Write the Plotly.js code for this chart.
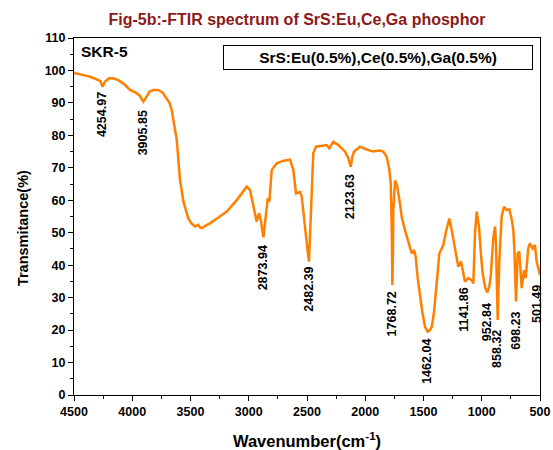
<!DOCTYPE html>
<html>
<head>
<meta charset="utf-8">
<script src="https://cdn.plot.ly/plotly-3.0.1.min.js"></script>
<style>html,body{margin:0;padding:0;background:#fff;}#chart{width:553px;height:450px;}</style>
</head>
<body>
<div id="chart"></div>
<script>
// Wavenumber (cm^-1) and transmittance (%)
const wavenumber = [4500,4450,4400,4350,4305,4275,4255,4235,4200,4165,4120,4070,4019,3962,3935,3905,3880,3850,3820,3779,3740,3704,3680,3661,3640,3618,3590,3560,3519,3490,3461,3433,3418,3404,3370,3333,3260,3189,3100,3017,2989,2965,2946,2932,2912,2897,2874,2852,2837,2823,2803,2760,2700,2646,2617,2594,2560,2545,2526,2508,2495,2483,2470,2460,2446,2423,2380,2331,2309,2290,2274,2231,2174,2145,2125,2110,2096,2045,2000,1931,1880,1845,1816,1793,1781,1772,1767,1762,1759,1744,1725,1700,1687,1659,1630,1601,1581,1567,1550,1530,1510,1487,1464,1445,1429,1410,1393,1375,1364,1330,1307,1278,1258,1230,1201,1178,1160,1144,1115,1086,1072,1065,1058,1043,1024,1005,992,970,952,935,923,901,886,878,868,863,856,849,829,809,786,763,745,729,720,706,700,692,678,665,657,637,623,601,586,563,543,529,506,500];
const transmittance = [99.2,98.9,98.4,97.9,97.3,96.8,95.0,96.5,97.6,97.6,97.0,95.8,94.0,93.0,92.2,90.4,91.8,93.5,94.0,94.0,93.2,91.4,90.0,87.8,83.5,78.6,66.3,59.5,54.4,52.8,51.9,52.4,51.6,51.4,52.2,52.9,54.7,56.5,60.2,64.2,63.2,59.0,55.0,53.4,56.0,53.9,48.6,57.0,60.6,59.6,69.3,71.4,72.2,72.5,69.3,62.1,62.6,61.1,53.9,48.8,44.5,41.1,52.0,64.2,74.5,76.5,76.8,77.0,76.0,77.2,78.0,77.0,75.0,73.0,70.3,73.5,75.0,76.5,75.8,75.0,75.3,75.0,73.4,69.3,65.2,50.0,33.9,45.0,57.0,66.1,64.2,58.5,54.9,50.8,47.5,43.6,44.7,42.6,36.0,30.3,25.5,21.0,19.5,20.0,21.0,25.5,31.3,39.0,43.6,46.2,50.3,54.4,50.8,44.7,39.5,41.1,38.0,34.9,36.0,35.4,34.4,40.0,49.8,56.5,51.9,42.5,37.5,33.0,31.6,33.5,36.5,48.3,51.9,46.7,30.0,23.1,33.0,41.6,55.0,58.0,57.0,57.2,54.5,50.8,44.7,28.8,35.0,43.6,44.2,38.0,32.9,38.5,36.0,45.2,46.7,45.2,46.2,41.1,37.5,37.0];

// Peak labels
const peakLabels = ["4254.97","3905.85","2873.94","2482.39","2123.63","1768.72","1462.04","1141.86","952.84","858.32","698.23","501.49"];
const peakLabelX = [4254,3910,2880,2480,2131,1770,1472,1150,957,871,708,526];
const peakLabelTop = [94.0,88.4,46.8,40.1,68.8,32.4,18.0,33.9,28.8,20.6,26.2,34.5];

const sampleName = "SKR-5";
const seriesName = "SrS:Eu(0.5%),Ce(0.5%),Ga(0.5%)";
const titleText = "Fig-5b:-FTIR spectrum of SrS:Eu,Ce,Ga phosphor";
const xTitle = "Wavenumber(cm<sup>-1</sup>)";
const yTitle = "Transmitance(%)";

const FONT = "Liberation Sans, Arial, sans-serif";

const annotations = peakLabels.map((t, i) => ({
  x: peakLabelX[i], y: peakLabelTop[i], xref: 'x', yref: 'y',
  text: t, textangle: -90, showarrow: false,
  xanchor: 'center', yanchor: 'top',
  font: {family: FONT, size: 12.5, color: '#000', weight: 'bold'}
}));
annotations.push({
  x: 0.011, y: 0.961, xref: 'paper', yref: 'paper', text: sampleName,
  showarrow: false, xanchor: 'left', yanchor: 'middle',
  font: {family: FONT, size: 15.5, color: '#000', weight: 'bold'}
});
annotations.push({
  x: 0.652, y: 0.945, xref: 'paper', yref: 'paper', text: seriesName,
  showarrow: false, xanchor: 'center', yanchor: 'middle',
  width: 304, height: 19, borderpad: 2, bordercolor: '#000', borderwidth: 1,
  bgcolor: '#fff',
  font: {family: FONT, size: 15.5, color: '#000', weight: 'bold'}
});
// y-axis title (placed as annotation to match the reference's position)
annotations.push({
  x: -0.109, y: 0.468, xref: 'paper', yref: 'paper', text: yTitle,
  textangle: -90, showarrow: false, xanchor: 'center', yanchor: 'middle',
  font: {family: FONT, size: 14.5, color: '#000', weight: 'bold'}
});

const trace = {
  x: wavenumber, y: transmittance, type: 'scatter', mode: 'lines',
  name: seriesName,
  line: {color: '#FF8000', width: 2.5},
  showlegend: false
};

const axisCommon = {
  showgrid: false, zeroline: false, showline: true, linecolor: '#000', linewidth: 1,
  mirror: true, ticks: 'outside', ticklen: 5, tickcolor: '#000', tickwidth: 1,
  tickfont: {family: FONT, size: 12.5, color: '#000', weight: 'bold'}
};

const layout = {
  width: 553, height: 450,
  margin: {l: 74, r: 13, t: 38, b: 55},
  paper_bgcolor: '#fff', plot_bgcolor: '#fff',
  title: {text: titleText, x: 0.537, xref: 'container', xanchor: 'center',
          y: 0.956, yref: 'container', yanchor: 'middle',
          font: {family: FONT, size: 16, color: '#8B1A1A', weight: 'bold'}},
  xaxis: Object.assign({}, axisCommon, {
    range: [4500, 500], dtick: 500, tick0: 500,
    minor: {ticks: 'outside', ticklen: 3, dtick: 250, tickcolor: '#000'},
    title: {text: xTitle, standoff: 18,
            font: {family: FONT, size: 16.5, color: '#000', weight: 'bold'}}
  }),
  yaxis: Object.assign({}, axisCommon, {
    range: [0, 110], dtick: 10, tick0: 0,
    minor: {ticks: 'outside', ticklen: 3, dtick: 5, tickcolor: '#000'},
    title: {text: ''}
  }),
  annotations: annotations
};

Plotly.newPlot('chart', [trace], layout, {displayModeBar: false, staticPlot: true});
</script>
</body>
</html>
